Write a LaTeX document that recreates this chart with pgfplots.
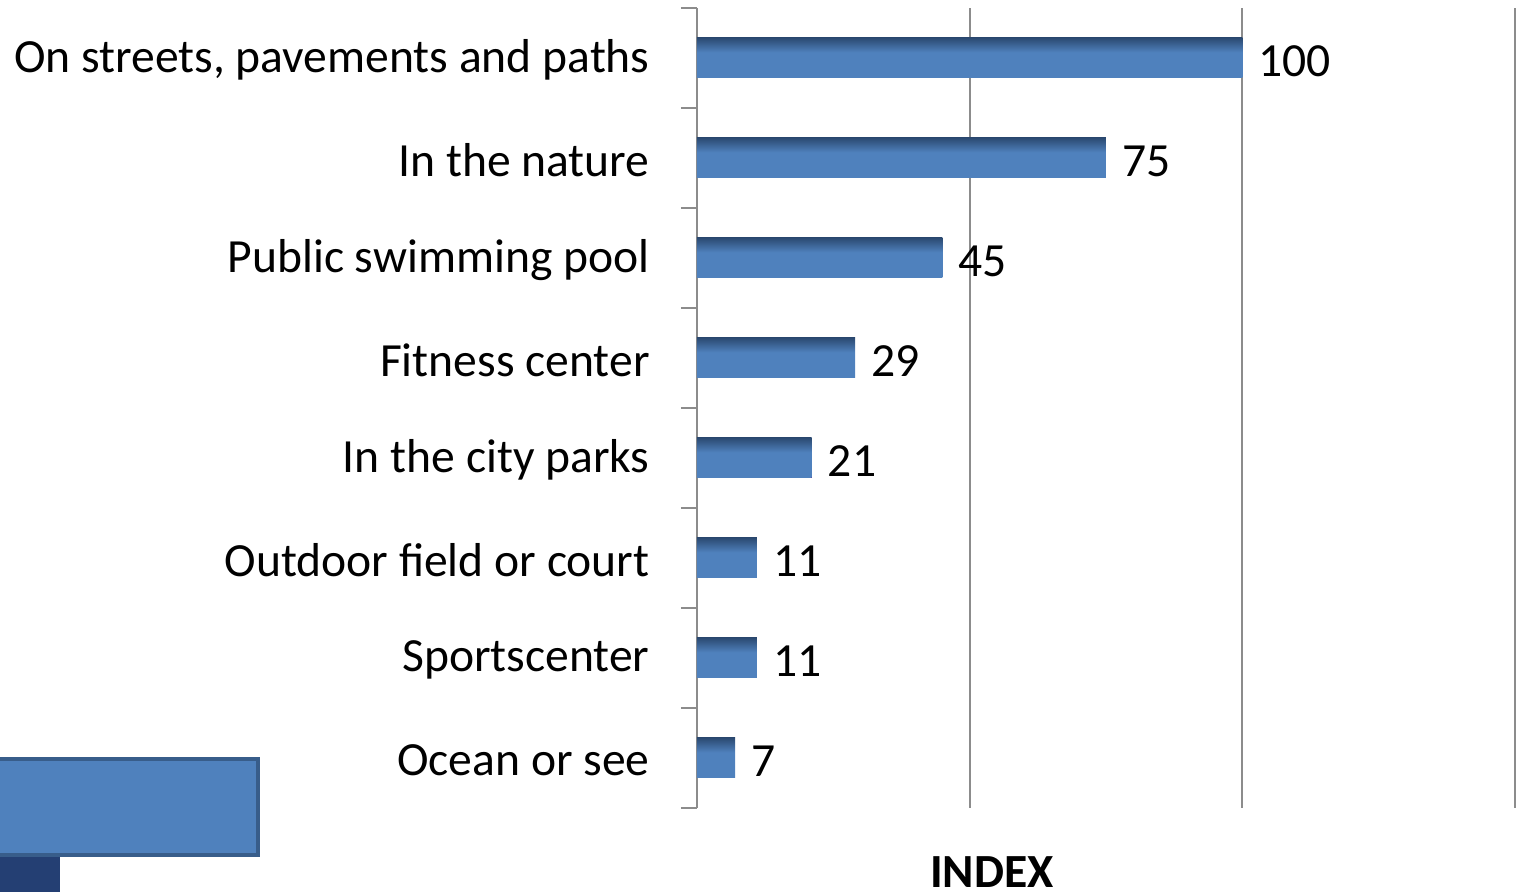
\documentclass[border=0pt]{standalone}
\usepackage{pgfplots}
\pgfplotsset{compat=1.18}
\usepackage{fontspec}
\setmainfont{Carlito}
\definecolor{barblue}{HTML}{4F81BD}
\definecolor{bardark}{HTML}{2B4A72}
\definecolor{boxedge}{HTML}{385D8A}
\definecolor{navy}{HTML}{243F73}
\definecolor{gridgray}{HTML}{8C8C8C}
\pgfdeclareverticalshading{barshade}{100bp}{color(0bp)=(barblue); color(25bp)=(barblue); color(57bp)=(barblue); color(75bp)=(bardark); color(100bp)=(bardark)}
\begin{document}
\begin{tikzpicture}
\useasboundingbox (-348.5pt,-42pt) rectangle (410pt,404pt);
\begin{axis}[
  at={(0pt,0pt)}, anchor=south west,
  scale only axis, width=409pt, height=400pt,
  xbar, bar width=20pt, bar shift=0pt,
  xmin=0, xmax=150, ymin=0.5, ymax=8.5,
  axis lines*=left,
  x axis line style={draw=none},
  y axis line style={gridgray, line width=1pt},
  xtick={0,50,100,150}, xticklabels={},
  xtick style={draw=none},
  xmajorgrids, major grid style={gridgray, line width=0.9pt},
  ytick={1,...,8},
  yticklabels={Ocean or see, Sportscenter, Outdoor field or court, In the city parks, Fitness center, Public swimming pool, In the nature, {On streets, pavements and paths}},
  major tick length=0pt,
  minor ytick={0.5,1.5,...,8.5},
  minor tick length=8pt,
  tick align=outside,
  minor y tick style={gridgray, line width=1pt},
  yticklabel style={font=\fontsize{23.8}{28}\selectfont, inner sep=0pt, anchor=east, xshift=-23.5pt, yshift=-1pt},
  /pgf/number format/assume math mode=true,
  nodes near coords,
  every node near coord/.append style={font=\fontsize{23.8}{28}\selectfont, inner sep=0pt, anchor=west, xshift=8pt, yshift=-1.5pt, black},
  every axis plot/.append style={draw=none, shading=barshade},
  clip=false,
]
\addplot coordinates {(100,8)};
\addplot coordinates {(75,7)};
\addplot coordinates {(45,6)};
\addplot coordinates {(29,5)};
\addplot coordinates {(21,4)};
\addplot coordinates {(11,3)};
\addplot coordinates {(11,2)};
\addplot coordinates {(7,1)};
\node[font=\bfseries\fontsize{23.8}{28}\selectfont, inner sep=0pt, anchor=base] at (rel axis cs:0.3606,-0.1) {INDEX};
\end{axis}
\fill[boxedge] (-348.5pt,-24.5pt) rectangle (-218.5pt,25.5pt);
\fill[barblue] (-348.5pt,-22.5pt) rectangle (-220.5pt,23.5pt);
\fill[navy] (-348.5pt,-42pt) rectangle (-318.5pt,-24.5pt);
\end{tikzpicture}
\end{document}
